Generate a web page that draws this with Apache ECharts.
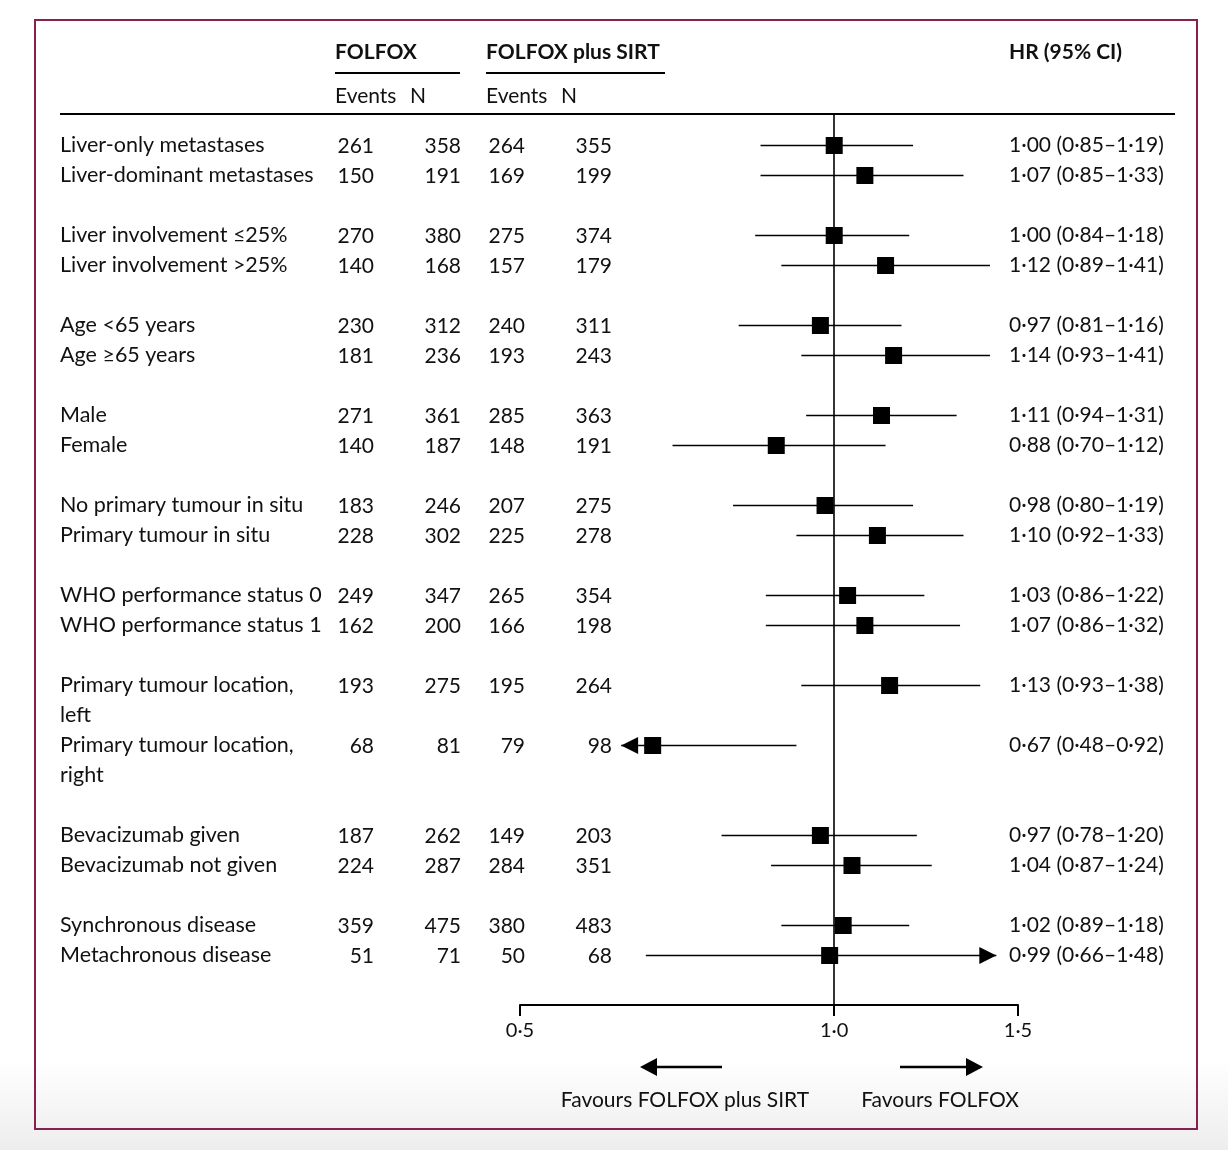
<!DOCTYPE html>
<html><head><meta charset="utf-8">
<script src="https://cdn.jsdelivr.net/npm/echarts@6/dist/echarts.min.js"></script>
<style>
html,body{margin:0;padding:0;width:1228px;height:1150px;background:linear-gradient(to bottom,#ffffff 0px,#ffffff 1060px,#ededed 1150px);}
#c{width:1228px;height:1150px;}
</style></head><body><div id="c"></div>
<script>
// ---- data ----
const labels = [
  'Liver-only metastases','Liver-dominant metastases',
  'Liver involvement ≤25%','Liver involvement >25%',
  'Age <65 years','Age ≥65 years',
  'Male','Female',
  'No primary tumour in situ','Primary tumour in situ',
  'WHO performance status 0','WHO performance status 1',
  'Primary tumour location,\nleft','Primary tumour location,\nright',
  'Bevacizumab given','Bevacizumab not given',
  'Synchronous disease','Metachronous disease'
];
const groups = [0,0,1,1,2,2,3,3,4,4,5,5,6,6,7,7,8,8];
const eventsFolfox = [261,150,270,140,230,181,271,140,183,228,249,162,193,68,187,224,359,51];
const nFolfox      = [358,191,380,168,312,236,361,187,246,302,347,200,275,81,262,287,475,71];
const eventsSirt   = [264,169,275,157,240,193,285,148,207,225,265,166,195,79,149,284,380,50];
const nSirt        = [355,199,374,179,311,243,363,191,275,278,354,198,264,98,203,351,483,68];
const hr     = [1.00,1.07,1.00,1.12,0.97,1.14,1.11,0.88,0.98,1.10,1.03,1.07,1.13,0.67,0.97,1.04,1.02,0.99];
const ciLow  = [0.85,0.85,0.84,0.89,0.81,0.93,0.94,0.70,0.80,0.92,0.86,0.86,0.93,0.48,0.78,0.87,0.89,0.66];
const ciHigh = [1.19,1.33,1.18,1.41,1.16,1.41,1.31,1.12,1.19,1.33,1.22,1.32,1.38,0.92,1.20,1.24,1.18,1.48];
const tickValues = [0.5, 1.0, 1.5];
const axisMin = 0.5, axisMax = 1.5;
const clipLow = 0.625, clipHigh = 1.43;   // CI drawn range, arrows beyond

// ---- helpers ----
const FONT = 'Lato, "Open Sans", sans-serif';
const fmt2 = v => v.toFixed(2).replace('.', '·');
const fmt1 = v => v.toFixed(1).replace('.', '·');
const ln = Math.log;

// row slots: each row takes its number of text lines, one blank line between groups
const slots = [];
{
  let s = 0;
  for (let i = 0; i < labels.length; i++) {
    if (i > 0 && groups[i] !== groups[i - 1]) s += 1;
    slots.push(s);
    s += labels[i].split('\n').length;
  }
}

const forestData = labels.map((_, i) => [slots[i], ln(hr[i]), ln(ciLow[i]), ln(ciHigh[i])]);
const textData = labels.map((_, i) => [0, slots[i], i]);

const chart = echarts.init(document.getElementById('c'), null, {renderer: 'canvas'});

function txt(x, y, text, opts) {
  return Object.assign({type: 'text', x: x, y: y, silent: true,
    style: Object.assign({text: text, font: '21px ' + FONT, fill: '#111', align: 'left', verticalAlign: 'middle'}, opts || {})});
}

const option = {
  animation: false,
  backgroundColor: 'transparent',
  grid: {left: 520, top: 114, width: 498, height: 891, containLabel: false},
  xAxis: {
    type: 'value', min: ln(axisMin), max: ln(axisMax),
    splitLine: {show: false},
    axisLine: {show: true, onZero: false, lineStyle: {color: '#000', width: 2}},
    axisTick: {show: true, inside: false, length: 11, lineStyle: {color: '#000', width: 2},
      customValues: tickValues.map(ln)},
    axisLabel: {show: true, customValues: tickValues.map(ln), margin: 16,
      formatter: v => fmt1(Math.exp(v)), color: '#111', fontSize: 20, fontFamily: FONT}
  },
  yAxis: {type: 'value', inverse: true, min: -1.05, max: 28.65, show: false},
  series: [
    {
      type: 'custom', clip: false, data: forestData,
      renderItem: function (params, api) {
        const y = api.value(0), h = api.value(1), lo = api.value(2), hi = api.value(3);
        const loC = Math.max(lo, ln(clipLow)), hiC = Math.min(hi, ln(clipHigh));
        const pLo = api.coord([loC, y]), pHi = api.coord([hiC, y]), pH = api.coord([h, y]);
        const py = pLo[1];
        const ch = [{type: 'line', shape: {x1: pLo[0], y1: py, x2: pHi[0], y2: py},
          style: {stroke: '#000', lineWidth: 1.6}}];
        if (lo < ln(clipLow)) ch.push({type: 'polygon',
          shape: {points: [[pLo[0], py], [pLo[0] + 17, py - 8.5], [pLo[0] + 17, py + 8.5]]}, style: {fill: '#000'}});
        if (hi > ln(clipHigh)) ch.push({type: 'polygon',
          shape: {points: [[pHi[0], py], [pHi[0] - 17, py - 8.5], [pHi[0] - 17, py + 8.5]]}, style: {fill: '#000'}});
        ch.push({type: 'rect', shape: {x: pH[0] - 8.5, y: py - 8.5, width: 17, height: 17}, style: {fill: '#000'}});
        return {type: 'group', children: ch};
      },
      markLine: {silent: true, symbol: 'none', label: {show: false},
        lineStyle: {color: '#000', width: 1.6, type: 'solid'}, data: [{xAxis: 0}]}
    },
    {
      type: 'custom', clip: false, data: textData, silent: true,
      renderItem: function (params, api) {
        const i = api.value(2);
        const y = api.coord([0, api.value(1)])[1];
        return {type: 'group', children: [
          txt(60, y - 15, labels[i], {verticalAlign: 'top', lineHeight: 30, font: '21.5px ' + FONT}),
          txt(374, y + 1, String(eventsFolfox[i]), {align: 'right'}),
          txt(461, y + 1, String(nFolfox[i]), {align: 'right'}),
          txt(525, y + 1, String(eventsSirt[i]), {align: 'right'}),
          txt(612, y + 1, String(nSirt[i]), {align: 'right'}),
          txt(1009, y, fmt2(hr[i]) + ' (' + fmt2(ciLow[i]) + '–' + fmt2(ciHigh[i]) + ')')
        ]};
      }
    }
  ],
  graphic: [
    {type: 'rect', shape: {x: 35, y: 20, width: 1162, height: 1109}, silent: true,
      style: {fill: 'transparent', stroke: '#86214f', lineWidth: 2}},
    txt(335, 52, 'FOLFOX', {font: 'bold 21px ' + FONT}),
    txt(486, 52, 'FOLFOX plus SIRT', {font: 'bold 21px ' + FONT}),
    txt(1009, 52, 'HR (95% CI)', {font: 'bold 21px ' + FONT}),
    {type: 'line', shape: {x1: 335, y1: 73, x2: 460, y2: 73}, style: {stroke: '#000', lineWidth: 2}, silent: true},
    {type: 'line', shape: {x1: 486, y1: 73, x2: 665, y2: 73}, style: {stroke: '#000', lineWidth: 2}, silent: true},
    txt(335, 96, 'Events', {}),
    txt(410, 96, 'N', {}),
    txt(486, 96, 'Events', {}),
    txt(561, 96, 'N', {}),
    {type: 'line', shape: {x1: 60, y1: 114, x2: 1175, y2: 114}, style: {stroke: '#000', lineWidth: 2}, silent: true},
    {type: 'line', shape: {x1: 656, y1: 1067, x2: 722, y2: 1067}, style: {stroke: '#000', lineWidth: 2.5}, silent: true},
    {type: 'polygon', shape: {points: [[640, 1067], [657, 1058], [657, 1076]]}, style: {fill: '#000'}, silent: true},
    {type: 'line', shape: {x1: 900, y1: 1067, x2: 968, y2: 1067}, style: {stroke: '#000', lineWidth: 2.5}, silent: true},
    {type: 'polygon', shape: {points: [[983, 1067], [966, 1058], [966, 1076]]}, style: {fill: '#000'}, silent: true},
    txt(685, 1100, 'Favours FOLFOX plus SIRT', {align: 'center'}),
    txt(940, 1100, 'Favours FOLFOX', {align: 'center'})
  ]
};
chart.setOption(option);
</script></body></html>
